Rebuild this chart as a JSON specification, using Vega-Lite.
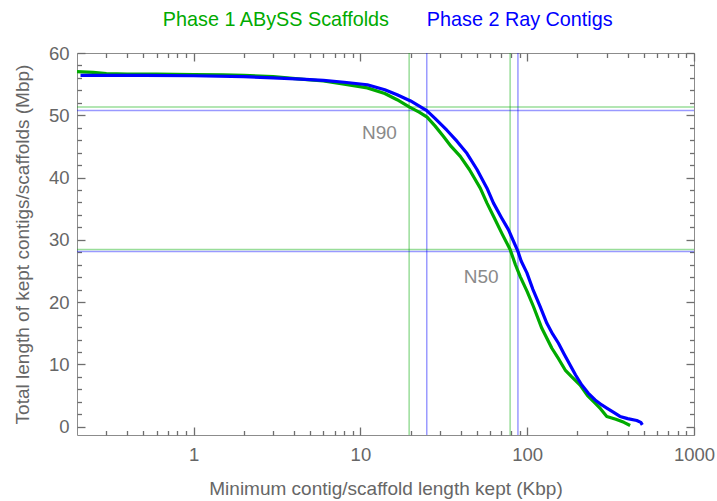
{
  "$schema": "https://vega.github.io/schema/vega-lite/v6.json",
  "width": 617,
  "height": 382,
  "autosize": "none",
  "padding": {"left": 77, "top": 53, "right": 23, "bottom": 66},
  "background": "white",
  "datasets": {
    "curves": [
      {"set": "abyss", "x": 0.2, "y": 57.0},
      {"set": "abyss", "x": 0.25, "y": 56.9},
      {"set": "abyss", "x": 0.3, "y": 56.7},
      {"set": "abyss", "x": 0.4, "y": 56.6},
      {"set": "abyss", "x": 0.6, "y": 56.6},
      {"set": "abyss", "x": 1.0, "y": 56.55},
      {"set": "abyss", "x": 1.5, "y": 56.5},
      {"set": "abyss", "x": 2.0, "y": 56.4},
      {"set": "abyss", "x": 3.0, "y": 56.2},
      {"set": "abyss", "x": 4.4, "y": 55.8},
      {"set": "abyss", "x": 6, "y": 55.5},
      {"set": "abyss", "x": 8, "y": 55.0},
      {"set": "abyss", "x": 11, "y": 54.4},
      {"set": "abyss", "x": 14, "y": 53.5},
      {"set": "abyss", "x": 16.6, "y": 52.5},
      {"set": "abyss", "x": 19.6, "y": 51.35},
      {"set": "abyss", "x": 22.5, "y": 50.5},
      {"set": "abyss", "x": 25.1, "y": 49.7},
      {"set": "abyss", "x": 28, "y": 48.3},
      {"set": "abyss", "x": 31.5, "y": 46.6},
      {"set": "abyss", "x": 35, "y": 45.0},
      {"set": "abyss", "x": 39.7, "y": 43.4},
      {"set": "abyss", "x": 45, "y": 41.3},
      {"set": "abyss", "x": 52.3, "y": 38.3},
      {"set": "abyss", "x": 57.4, "y": 35.9},
      {"set": "abyss", "x": 63, "y": 33.7},
      {"set": "abyss", "x": 70.6, "y": 31.0},
      {"set": "abyss", "x": 79, "y": 28.45},
      {"set": "abyss", "x": 85, "y": 26.0},
      {"set": "abyss", "x": 90.8, "y": 24.1},
      {"set": "abyss", "x": 100, "y": 21.7},
      {"set": "abyss", "x": 109, "y": 19.3},
      {"set": "abyss", "x": 122.4, "y": 15.8},
      {"set": "abyss", "x": 140.6, "y": 12.6},
      {"set": "abyss", "x": 155, "y": 10.8},
      {"set": "abyss", "x": 169, "y": 9.1},
      {"set": "abyss", "x": 185, "y": 8.0},
      {"set": "abyss", "x": 207.6, "y": 6.7},
      {"set": "abyss", "x": 230, "y": 5.0},
      {"set": "abyss", "x": 255.4, "y": 3.8},
      {"set": "abyss", "x": 275, "y": 2.9},
      {"set": "abyss", "x": 300, "y": 1.65},
      {"set": "abyss", "x": 340, "y": 1.2},
      {"set": "abyss", "x": 380, "y": 0.7},
      {"set": "abyss", "x": 414, "y": 0.2},
      {"set": "ray", "x": 0.21, "y": 56.4},
      {"set": "ray", "x": 0.3, "y": 56.4},
      {"set": "ray", "x": 0.5, "y": 56.4},
      {"set": "ray", "x": 1.0, "y": 56.35},
      {"set": "ray", "x": 2.0, "y": 56.2},
      {"set": "ray", "x": 3.0, "y": 56.0},
      {"set": "ray", "x": 4.4, "y": 55.8},
      {"set": "ray", "x": 6, "y": 55.6},
      {"set": "ray", "x": 8, "y": 55.3},
      {"set": "ray", "x": 11, "y": 54.9},
      {"set": "ray", "x": 14, "y": 54.1},
      {"set": "ray", "x": 16.6, "y": 53.3},
      {"set": "ray", "x": 20, "y": 52.3},
      {"set": "ray", "x": 25, "y": 50.75},
      {"set": "ray", "x": 28, "y": 49.5},
      {"set": "ray", "x": 33, "y": 47.6},
      {"set": "ray", "x": 38, "y": 45.8},
      {"set": "ray", "x": 43.5, "y": 43.9},
      {"set": "ray", "x": 50, "y": 41.3},
      {"set": "ray", "x": 57.4, "y": 38.3},
      {"set": "ray", "x": 62.8, "y": 35.9},
      {"set": "ray", "x": 70, "y": 33.6},
      {"set": "ray", "x": 77.3, "y": 31.6},
      {"set": "ray", "x": 88, "y": 28.15},
      {"set": "ray", "x": 92, "y": 26.6},
      {"set": "ray", "x": 99.6, "y": 24.7},
      {"set": "ray", "x": 108, "y": 22.1},
      {"set": "ray", "x": 119.6, "y": 19.3},
      {"set": "ray", "x": 131.2, "y": 16.6},
      {"set": "ray", "x": 142, "y": 14.9},
      {"set": "ray", "x": 154, "y": 13.4},
      {"set": "ray", "x": 167, "y": 11.6},
      {"set": "ray", "x": 180.8, "y": 9.9},
      {"set": "ray", "x": 195, "y": 8.3},
      {"set": "ray", "x": 212.5, "y": 6.7},
      {"set": "ray", "x": 232, "y": 5.4},
      {"set": "ray", "x": 255.4, "y": 4.3},
      {"set": "ray", "x": 280, "y": 3.5},
      {"set": "ray", "x": 300, "y": 3.0},
      {"set": "ray", "x": 330, "y": 2.3},
      {"set": "ray", "x": 360, "y": 1.65},
      {"set": "ray", "x": 400, "y": 1.3},
      {"set": "ray", "x": 454, "y": 1.0},
      {"set": "ray", "x": 480, "y": 0.7},
      {"set": "ray", "x": 490, "y": 0.3}
    ],
    "vlines": [
      {"set": "abyss", "x": 19.6},
      {"set": "abyss", "x": 79},
      {"set": "ray", "x": 25},
      {"set": "ray", "x": 88}
    ],
    "hlines": [
      {"set": "abyss", "y": 51.35},
      {"set": "abyss", "y": 28.45},
      {"set": "ray", "y": 50.75},
      {"set": "ray", "y": 28.15}
    ],
    "notes": [
      {"label": "N90", "x": 13.0, "y": 47.2},
      {"label": "N50", "x": 53.0, "y": 24.06}
    ]
  },
  "layer": [
    {
      "data": {"name": "vlines"},
      "mark": {"type": "rule", "strokeWidth": 1.5, "opacity": 0.4},
      "encoding": {
        "x": {
          "field": "x", "type": "quantitative",
          "axis": {"orient": "top", "values": [0.3, 0.4, 0.5, 0.6, 0.7, 0.8, 0.9, 2, 3, 4, 5, 6, 7, 8, 9, 20, 30, 40, 50, 60, 70, 80, 90, 200, 300, 400, 500, 600, 700, 800, 900], "labels": false, "ticks": true, "tickSize": 4.5, "offset": -4.5, "title": null}
        },
        "color": {"field": "set", "type": "nominal"}
      }
    },
    {
      "data": {"name": "hlines"},
      "mark": {"type": "rule", "strokeWidth": 1.5, "opacity": 0.4},
      "encoding": {
        "y": {
          "field": "y", "type": "quantitative",
          "axis": {"orient": "right", "values": [2, 4, 6, 8, 12, 14, 16, 18, 22, 24, 26, 28, 32, 34, 36, 38, 42, 44, 46, 48, 52, 54, 56, 58], "labels": false, "ticks": true, "tickSize": 4.5, "offset": -4.5, "title": null}
        },
        "color": {"field": "set", "type": "nominal"}
      }
    },
    {
      "data": {"name": "curves"},
      "transform": [{"filter": "datum.set == 'abyss'"}],
      "mark": {"type": "line", "strokeWidth": 3.2, "strokeJoin": "round", "strokeCap": "butt"},
      "encoding": {
        "x": {
          "field": "x", "type": "quantitative",
          "scale": {"type": "log", "domain": [0.2, 1000], "nice": false},
          "axis": {"orient": "bottom", "values": [1, 10, 100, 1000], "labelExpr": "format(datum.value, 'd')", "labelFlush": false, "ticks": true, "tickSize": 8, "offset": -8, "labelPadding": 10, "title": "Minimum contig/scaffold length kept (Kbp)", "titlePadding": 16}
        },
        "y": {
          "field": "y", "type": "quantitative",
          "scale": {"domain": [-1.33, 60], "nice": false, "zero": false},
          "axis": {"orient": "left", "values": [0, 10, 20, 30, 40, 50, 60], "labelFlush": false, "ticks": true, "tickSize": 8, "offset": -8, "labelPadding": 8, "title": "Total length of kept contigs/scaffolds (Mbp)", "titlePadding": 16}
        },
        "color": {
          "field": "set", "type": "nominal",
          "scale": {"domain": ["abyss", "ray"], "range": ["#00aa00", "#0000ff"]},
          "legend": {
            "orient": "none", "legendX": 66, "legendY": -43, "direction": "horizontal", "title": null,
            "labelExpr": "datum.value == 'abyss' ? 'Phase 1 ABySS Scaffolds' : 'Phase 2 Ray Contigs'",
            "labelColor": {"expr": "datum.value == 'abyss' ? '#00aa00' : '#0000ff'"}
          }
        }
      }
    },
    {
      "data": {"name": "curves"},
      "transform": [{"filter": "datum.set == 'ray'"}],
      "mark": {"type": "line", "strokeWidth": 3.2, "strokeJoin": "round", "strokeCap": "butt"},
      "encoding": {
        "x": {
          "field": "x", "type": "quantitative",
          "axis": {"orient": "bottom", "values": [0.3, 0.4, 0.5, 0.6, 0.7, 0.8, 0.9, 2, 3, 4, 5, 6, 7, 8, 9, 20, 30, 40, 50, 60, 70, 80, 90, 200, 300, 400, 500, 600, 700, 800, 900], "labels": false, "ticks": true, "tickSize": 4.5, "offset": -4.5, "title": null}
        },
        "y": {
          "field": "y", "type": "quantitative",
          "axis": {"orient": "left", "values": [2, 4, 6, 8, 12, 14, 16, 18, 22, 24, 26, 28, 32, 34, 36, 38, 42, 44, 46, 48, 52, 54, 56, 58], "labels": false, "ticks": true, "tickSize": 4.5, "offset": -4.5, "title": null}
        },
        "color": {"field": "set", "type": "nominal"}
      }
    },
    {
      "data": {"name": "notes"},
      "mark": {"type": "text", "fontSize": 19, "font": "Liberation Sans", "color": "#8a8a8a", "align": "center", "baseline": "middle"},
      "encoding": {
        "x": {
          "field": "x", "type": "quantitative",
          "axis": {"orient": "top", "values": [1, 10, 100, 1000], "labels": false, "ticks": true, "tickSize": 8, "offset": -8, "title": null}
        },
        "y": {
          "field": "y", "type": "quantitative",
          "axis": {"orient": "right", "values": [0, 10, 20, 30, 40, 50, 60], "labels": false, "ticks": true, "tickSize": 8, "offset": -8, "title": null}
        },
        "text": {"field": "label"}
      }
    }
  ],
  "resolve": {
    "scale": {"x": "shared", "y": "shared", "color": "shared"},
    "axis": {"x": "independent", "y": "independent"}
  },
  "config": {
    "view": {"stroke": "#8c8c8c", "strokeWidth": 1},
    "axis": {
      "grid": false,
      "domain": false,
      "tickColor": "#6e6e6e",
      "tickWidth": 1.3,
      "labelFont": "Liberation Sans",
      "labelFontSize": 18.5,
      "labelColor": "#666666",
      "titleFont": "Liberation Sans",
      "titleFontSize": 19,
      "titleFontWeight": "normal",
      "titleColor": "#666666"
    },
    "legend": {
      "padding": 0,
      "symbolSize": 0,
      "symbolOpacity": 0,
      "symbolStrokeWidth": 0,
      "labelOffset": 0,
      "columnPadding": 16,
      "labelFont": "Liberation Sans",
      "labelFontSize": 19.8,
      "labelLimit": 400
    }
  }
}
